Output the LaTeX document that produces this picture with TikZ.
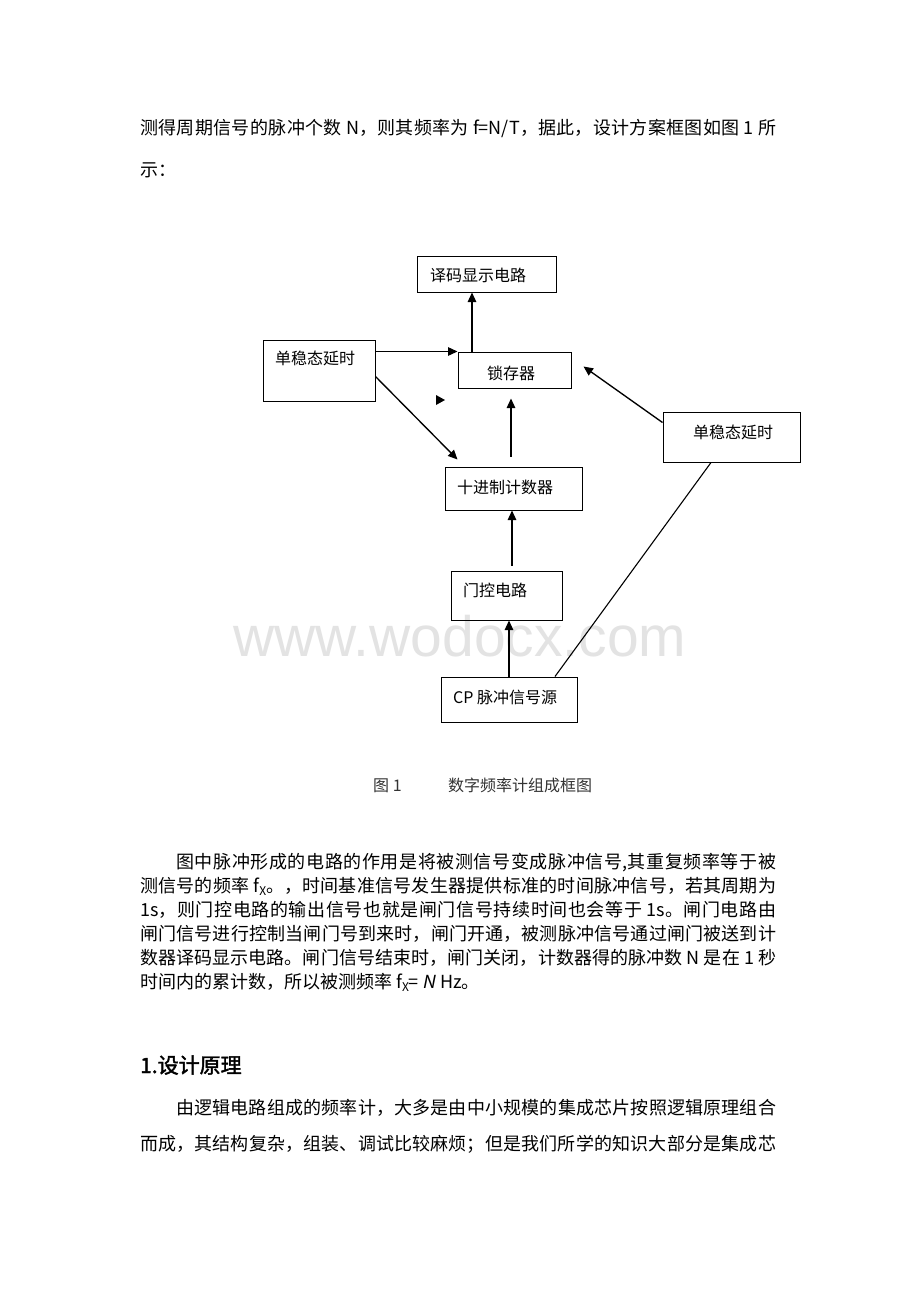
\documentclass[tikz,border=0pt]{standalone}
\usepackage{fontspec}
\setmainfont{Noto Sans CJK SC}
\newfontfamily\cjkbold[FakeBold=2]{Noto Sans CJK SC}
\newfontfamily\cjkit[FakeSlant=0.2]{Noto Sans CJK SC}
\newfontfamily\wmfont{Liberation Sans}
\usetikzlibrary{arrows.meta}
\XeTeXlinebreaklocale "zh"
\XeTeXlinebreakskip=0pt plus 3pt
\newcommand\fXsub{f\raisebox{-3pt}{\fontsize{12}{12}\selectfont X}}
\newcommand\jline[1]{\parbox[t]{636pt}{\XeTeXlinebreakpenalty=10000 \tolerance=10000 \parfillskip=0pt \parindent=0pt #1}}
\begin{document}
\begin{tikzpicture}[x=1pt,y=-1pt,
  box/.style={draw, line width=1pt, inner sep=0pt},
  lbl/.style={anchor=base west, inner sep=0pt, font=\fontsize{16}{16}\selectfont},
  para/.style={anchor=base west, inner sep=0pt, font=\fontsize{18}{18}\selectfont},
  arr/.style={line width=1.35pt, -{Triangle[length=9.5pt,width=8.5pt]}},
  ln/.style={line width=1.1pt}]
\useasboundingbox (0,0) rectangle (920,1302);
\fill[white] (0,0) rectangle (920,1302);
% watermark
\node[font=\wmfont\fontsize{57}{57}\selectfont, text=black!11, inner sep=0pt] (wm) at (460,636) {www.wodocx.com};
% top paragraph
\node[para] (p1a) at (140,134) {\jline{测得周期信号的脉冲个数~N，则其频率为~f=N/T，据此，设计方案框图如图~1~所}};
\node[para] (p1b) at (140,176) {示：};
% boxes
\node[box, minimum width=139pt, minimum height=36pt] (dec) at (486.5,274) {};
\node[box, minimum width=112pt, minimum height=61pt] (monoL) at (319,370.5) {};
\node[box, minimum width=113pt, minimum height=36pt] (latch) at (514.5,370) {};
\node[box, minimum width=137pt, minimum height=50pt] (monoR) at (731.5,437) {};
\node[box, minimum width=137pt, minimum height=43pt] (cnt) at (513.5,488.5) {};
\node[box, minimum width=111pt, minimum height=49pt] (gate) at (506.5,595.5) {};
\node[box, minimum width=136pt, minimum height=45pt] (cp) at (509,699.5) {};
% labels
\node[lbl] (tdec) at (430,281) {译码显示电路};
\node[lbl] (tmonoL) at (275,364) {单稳态延时};
\node[lbl] (tlatch) at (487,379) {锁存器};
\node[lbl] (tmonoR) at (693,438) {单稳态延时};
\node[lbl] (tcnt) at (457,493) {十进制计数器};
\node[lbl] (tgate) at (463,596) {门控电路};
\node[lbl] (tcp) at (453,703) {CP 脉冲信号源};
% helper coordinates
\coordinate (cntTop) at ([xshift=-2.5pt,yshift=10pt]cnt.north);
\coordinate (latBot) at ([yshift=-10pt]latch.south);
\coordinate (gateTop) at ([xshift=5.5pt,yshift=5pt]gate.north);
% connectors
\draw[arr] ([xshift=-42.5pt]latch.north) -- ([xshift=-42.5pt]latch.north |- dec.south);
\draw[arr] ([yshift=-12pt]monoL.north east) -- (latch.north west);
\draw[arr] ([yshift=-37pt]monoL.north east) -- ([xshift=13pt,yshift=7pt]cnt.north west);
\draw[arr] (cntTop) -- (cntTop |- latBot);
\draw[arr] ([yshift=-11pt]monoR.north west) -- ([xshift=12pt,yshift=-15pt]latch.north east);
\draw[arr] (gateTop) -- (gateTop |- cnt.south);
\draw[arr] (cp.north) -- (cp.north |- gate.south);
\draw[ln] ([xshift=-20.5pt]monoR.south) -- ([xshift=46pt]cp.north);
% stray arrowhead
\fill (436,395) -- (445,400) -- (436,405) -- cycle;
% caption
\node[lbl, text=black!80] (cap1) at (373,791) {图 1};
\node[lbl, text=black!80] (cap2) at (448,791) {数字频率计组成框图};
% paragraph 2
\node[para] (p2a) at (140,868) {\jline{\hspace*{36pt}图中脉冲形成的电路的作用是将被测信号变成脉冲信号,其重复频率等于被}};
\node[para] (p2b) at (140,892) {\jline{测信号的频率~\fXsub。，时间基准信号发生器提供标准的时间脉冲信号，若其周期为}};
\node[para] (p2c) at (140,916) {\jline{1s，则门控电路的输出信号也就是闸门信号持续时间也会等于~1s。闸门电路由}};
\node[para] (p2d) at (140,940) {\jline{闸门信号进行控制当闸门号到来时，闸门开通，被测脉冲信号通过闸门被送到计}};
\node[para] (p2e) at (140,964) {\jline{数器译码显示电路。闸门信号结束时，闸门关闭，计数器得的脉冲数~N~是在~1~秒}};
\node[para] (p2f) at (140,988) {时间内的累计数，所以被测频率 \fXsub= {\cjkit N} Hz。};
% heading
\node[anchor=base west, inner sep=0pt, font=\cjkbold\fontsize{21}{21}\selectfont] (head) at (140,1073) {1.设计原理};
% paragraph 3
\node[para] (p3a) at (140,1114) {\jline{\hspace*{36pt}由逻辑电路组成的频率计，大多是由中小规模的集成芯片按照逻辑原理组合}};
\node[para] (p3b) at (140,1150) {\jline{而成，其结构复杂，组装、调试比较麻烦；但是我们所学的知识大部分是集成芯}};
\end{tikzpicture}
\end{document}
